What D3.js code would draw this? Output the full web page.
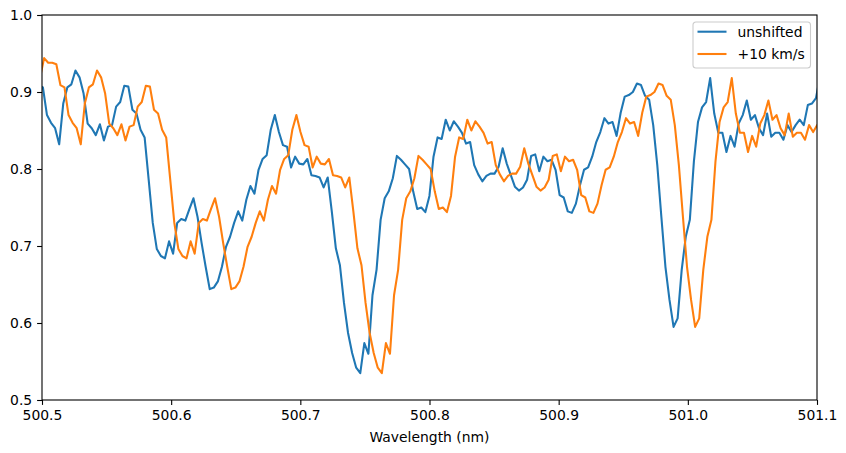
<!DOCTYPE html>
<html>
<head>
<meta charset="utf-8">
<script src="https://cdn.jsdelivr.net/npm/d3@7"></script>
<style>
  body { margin: 0; background: #fff; }
  svg text { font-family: "DejaVu Sans", sans-serif; }
</style>
</head>
<body>
<div id="chart"></div>
<script>
// spectrum, evenly sampled from waveStart with waveStep (nm)
var waveStart = 500.4818;
var waveStep = 0.00315;
var flux = [
  0.919, 0.944, 0.938, 0.938, 0.936, 0.909,
  0.906, 0.870, 0.860, 0.853, 0.832, 0.885, 0.906, 0.910, 0.928, 0.919,
  0.898, 0.859, 0.853, 0.844, 0.858, 0.837, 0.855, 0.857, 0.881, 0.887,
  0.908, 0.907, 0.877, 0.872, 0.851, 0.841, 0.786, 0.730, 0.696, 0.687,
  0.684, 0.706, 0.690, 0.730, 0.735, 0.733, 0.748, 0.762, 0.738, 0.704,
  0.673, 0.644, 0.646, 0.654, 0.673, 0.699, 0.712, 0.730, 0.745, 0.733,
  0.760, 0.778, 0.768, 0.799, 0.813, 0.818, 0.851, 0.870, 0.848, 0.831,
  0.829, 0.802, 0.816, 0.807, 0.806, 0.813, 0.792, 0.791, 0.789, 0.776,
  0.789, 0.745, 0.697, 0.675, 0.626, 0.587, 0.561, 0.542, 0.535, 0.574,
  0.560, 0.636, 0.669, 0.734, 0.762, 0.771, 0.788, 0.817, 0.812, 0.806,
  0.800, 0.771, 0.748, 0.750, 0.744, 0.765, 0.816, 0.841, 0.839, 0.864,
  0.850, 0.862, 0.855, 0.847, 0.833, 0.835, 0.805, 0.793, 0.784, 0.791,
  0.794, 0.794, 0.803, 0.827, 0.807, 0.792, 0.777, 0.772, 0.776, 0.786,
  0.817, 0.819, 0.797, 0.816, 0.810, 0.812, 0.799, 0.766, 0.763, 0.745,
  0.743, 0.755, 0.779, 0.799, 0.802, 0.816, 0.835, 0.848, 0.866, 0.859,
  0.861, 0.843, 0.873, 0.894, 0.896, 0.900, 0.911, 0.909, 0.895, 0.890,
  0.857, 0.805, 0.738, 0.673, 0.630, 0.595, 0.606, 0.669, 0.712, 0.734,
  0.810, 0.861, 0.880, 0.887, 0.918, 0.872, 0.847, 0.847, 0.822, 0.843,
  0.829, 0.859, 0.870, 0.889, 0.864, 0.870, 0.853, 0.844, 0.872, 0.842,
  0.847, 0.847, 0.838, 0.857, 0.848, 0.857, 0.864, 0.857, 0.883, 0.885,
  0.892, 0.920
];
var seriesNames = ["unshifted", "+10 km/s"];
var seriesShifts = [0, 10];   // km/s
var seriesColors = ["#1f77b4", "#ff7f0e"];
var xTicks = [500.5, 500.6, 500.7, 500.8, 500.9, 501.0, 501.1];
var yTicks = [0.5, 0.6, 0.7, 0.8, 0.9, 1.0];

var c = 299792.458;

var W = 846, H = 453;
var margin = {top: 15, right: 29, bottom: 53, left: 42};
var width = W - margin.left - margin.right;
var height = H - margin.top - margin.bottom;

var svg = d3.select("#chart").append("svg")
  .attr("width", W).attr("height", H);

var g = svg.append("g")
  .attr("transform", "translate(" + margin.left + "," + margin.top + ")");

var x = d3.scaleLinear().domain([500.5, 501.1]).range([0, width]);
var y = d3.scaleLinear().domain([0.5, 1.0]).range([height, 0]);

g.append("clipPath").attr("id", "clip")
  .append("rect").attr("width", width).attr("height", height);

var line = d3.line()
  .x(d => x(d.w))
  .y(d => y(d.f));

seriesNames.forEach(function(name, k) {
  var pts = flux.map(function(f, i) {
    var w = waveStart + i * waveStep;
    return {w: w * (1 + seriesShifts[k] / c), f: f};
  });
  g.append("path")
    .datum(pts)
    .attr("clip-path", "url(#clip)")
    .attr("fill", "none")
    .attr("stroke", seriesColors[k])
    .attr("stroke-width", 2.08)
    .attr("stroke-linejoin", "round")
    .attr("stroke-linecap", "square")
    .attr("d", line);
});

// axes
var xAxis = g.append("g")
  .attr("transform", "translate(0," + height + ")")
  .call(d3.axisBottom(x).tickValues(xTicks).tickFormat(d3.format(".1f"))
    .tickSizeInner(4.9).tickSizeOuter(0).tickPadding(4.9));
var yAxis = g.append("g")
  .call(d3.axisLeft(y).tickValues(yTicks).tickFormat(d3.format(".1f"))
    .tickSizeInner(4.9).tickSizeOuter(0).tickPadding(4.9));

[xAxis, yAxis].forEach(function(a) {
  a.select(".domain").remove();
  a.selectAll("line").attr("stroke", "#000").attr("stroke-width", 1.1);
  a.selectAll("text").attr("fill", "#000").style("font-size", "13.9px")
    .style("font-family", "DejaVu Sans");
});

// frame
g.append("rect")
  .attr("width", width).attr("height", height)
  .attr("fill", "none").attr("stroke", "#000").attr("stroke-width", 1.1);

g.append("text")
  .attr("x", width / 2)
  .attr("y", height + 42)
  .attr("text-anchor", "middle")
  .style("font-size", "13.9px")
  .text("Wavelength (nm)");

// legend
var lg = g.append("g")
  .attr("transform", "translate(" + (width - 124) + ",7)");
lg.append("rect")
  .attr("width", 117.5).attr("height", 46)
  .attr("rx", 3).attr("ry", 3)
  .attr("fill", "#fff").attr("fill-opacity", 0.8)
  .attr("stroke", "#cccccc").attr("stroke-width", 1.1);

seriesNames.forEach(function(name, k) {
  var yy = 9.7 + k * 22.3;
  lg.append("line")
    .attr("x1", 4.5).attr("x2", 33.5)
    .attr("y1", yy).attr("y2", yy)
    .attr("stroke", seriesColors[k]).attr("stroke-width", 2.08);
  lg.append("text")
    .attr("x", 44.5).attr("y", yy + 5)
    .style("font-size", "13.9px")
    .text(name);
});
</script>
</body>
</html>
